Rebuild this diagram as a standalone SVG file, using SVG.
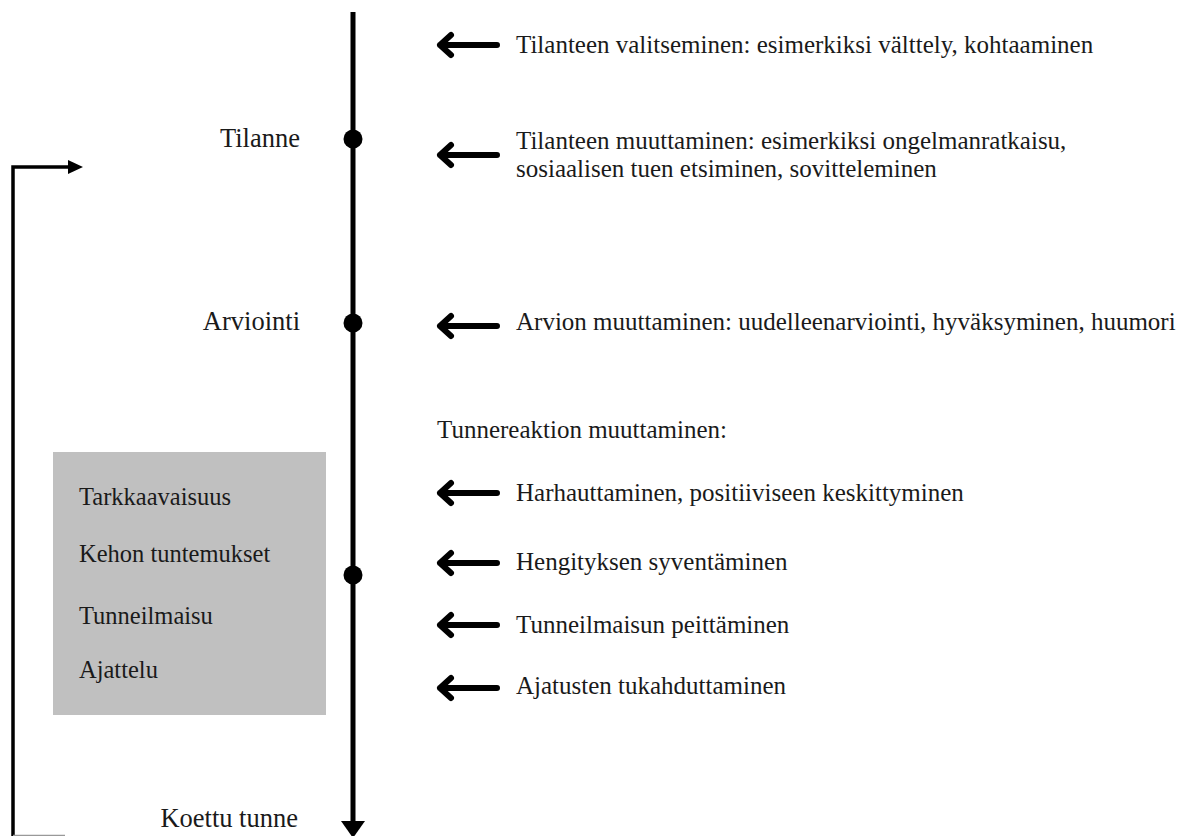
<svg xmlns="http://www.w3.org/2000/svg" width="1177" height="836" viewBox="0 0 1177 836">
<defs>
<style>
text{font-family:"Liberation Serif","Times New Roman",serif;fill:#1a1a1a;font-size:25px}
.box text{font-size:24.5px}
.lbl{font-size:26.5px}
.ln{stroke:#000;fill:none}
.arr{stroke:#000;stroke-width:6;fill:none;stroke-linecap:round;stroke-linejoin:round}
</style>
</defs>
<rect width="1177" height="836" fill="#fff"/>
<g id="connectors">
<line class="ln" x1="353" y1="12" x2="353" y2="824" stroke-width="5"/>
<path d="M341,821 L365,821 L353,838 z" fill="#000"/>
<polyline class="ln" points="13,836 13,167 70,167" stroke-width="3.5"/>
<line x1="13" y1="835.5" x2="65" y2="835.5" stroke="#999" stroke-width="1.5"/>
<path d="M68,160 L83,167 L68,174 z" fill="#000"/>
<g id="arrows">
<path class="arr" d="M497,45 H440 M451,35 L440,45 L451,55"/>
<path class="arr" d="M497,155 H440 M451,145 L440,155 L451,165"/>
<path class="arr" d="M497,326 H440 M451,316 L440,326 L451,336"/>
<path class="arr" d="M497,493 H440 M451,483 L440,493 L451,503"/>
<path class="arr" d="M497,563 H440 M451,553 L440,563 L451,573"/>
<path class="arr" d="M497,625 H440 M451,615 L440,625 L451,635"/>
<path class="arr" d="M497,688 H440 M451,678 L440,688 L451,698"/>
</g>
</g>
<g id="dots">
<circle cx="353" cy="139" r="9.5" fill="#000"/>
<circle cx="353" cy="323" r="9.5" fill="#000"/>
<circle cx="353" cy="575" r="9.5" fill="#000"/>
</g>
<g id="node-tilanne"><text class="lbl" x="300" y="147" text-anchor="end">Tilanne</text></g>
<g id="node-arviointi"><text class="lbl" x="300" y="330" text-anchor="end">Arviointi</text></g>
<g id="node-koettu"><text class="lbl" x="298" y="827" text-anchor="end">Koettu tunne</text></g>
<g id="node-box" class="box">
<rect x="53" y="452" width="273" height="263" fill="#c0c0c0"/>
<text x="79" y="505">Tarkkaavaisuus</text>
<text x="79" y="562">Kehon tuntemukset</text>
<text x="79" y="624">Tunneilmaisu</text>
<text x="79" y="678">Ajattelu</text>
</g>
<g id="node-s1"><text x="516" y="53">Tilanteen valitseminen: esimerkiksi välttely, kohtaaminen</text></g>
<g id="node-s2"><text x="516" y="149">Tilanteen muuttaminen: esimerkiksi ongelmanratkaisu,</text><text x="516" y="177">sosiaalisen tuen etsiminen, sovitteleminen</text></g>
<g id="node-s3"><text x="516" y="330">Arvion muuttaminen: uudelleenarviointi, hyväksyminen, huumori</text></g>
<g id="node-s4"><text x="437" y="438">Tunnereaktion muuttaminen:</text></g>
<g id="node-s5"><text x="516" y="501">Harhauttaminen, positiiviseen keskittyminen</text></g>
<g id="node-s6"><text x="516" y="570">Hengityksen syventäminen</text></g>
<g id="node-s7"><text x="516" y="633">Tunneilmaisun peittäminen</text></g>
<g id="node-s8"><text x="516" y="694">Ajatusten tukahduttaminen</text></g>
</svg>
